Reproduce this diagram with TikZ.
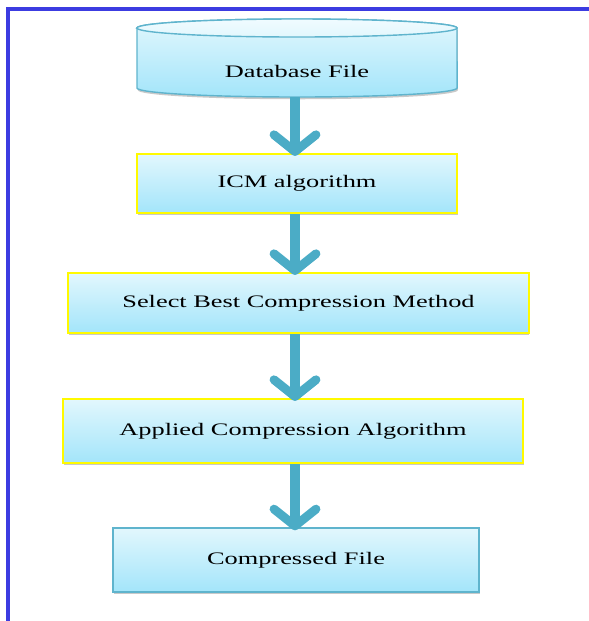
\documentclass[tikz,border=0pt]{standalone}
\usepackage{fontspec}
\setmainfont{Liberation Serif}[FakeStretch=1.5]
\usetikzlibrary{positioning,calc}
\usetikzlibrary{arrows.meta,shapes.geometric,shadows}
\definecolor{FlowTeal}{RGB}{75,172,198}
\definecolor{EdgeTeal}{RGB}{95,180,205}
\definecolor{BoxTop}{RGB}{226,247,253}
\definecolor{BoxBottom}{RGB}{163,229,250}
\definecolor{LidTop}{RGB}{240,251,255}
\definecolor{FrameBlue}{RGB}{60,60,225}
\definecolor{Lemon}{RGB}{255,250,0}
\tikzset{
	shade box/.style={top color=BoxTop,bottom color=BoxBottom,
		drop shadow={shadow xshift=0.6pt,shadow yshift=-1.6pt,opacity=0.3,fill=black!70}},
	stage/.style={rectangle,shade box,draw=Lemon,line width=1.5pt,
		minimum height=1.5cm,font=\fontsize{12.5}{14}\selectfont},
	drum/.style={shade box,draw=EdgeTeal,line width=1pt},
	flow/.style={draw=FlowTeal,line width=0.26cm,
		-{Straight Barb[length=0.42cm,width=1.05cm,line width=0.22cm,round]}},
}
\begin{document}
\begin{tikzpicture}[x=0.025cm,y=-0.025cm]
					\useasboundingbox (0,0) rectangle (589,621);
					\draw[FrameBlue,line width=2.6pt] (8,640) -- (8,9) -- (600,9);
					% database drum
					\path[drum] (137,28) -- (137,88) arc[start angle=180,end angle=360,x radius=4cm,y radius=0.225cm]
						-- (457,28) arc[start angle=0,end angle=180,x radius=4cm,y radius=0.225cm] -- cycle;
					\draw[EdgeTeal,line width=1pt,top color=LidTop,bottom color=BoxTop] (297,28) ellipse[x radius=4cm,y radius=0.225cm];
					\node[font=\fontsize{12.5}{14}\selectfont,minimum width=8cm,minimum height=1.3cm] (dbfile) at (297,71) {Database File};
					\node[stage,minimum width=8cm,minimum height=1.475cm] (icm) at (297,183.5) {ICM algorithm};
					\node[stage,minimum width=11.5cm,minimum height=1.5cm] (select) at (298.5,303) {Select Best Compression Method};
					\node[stage,minimum width=11.5cm,minimum height=1.6cm] (applied) at (293,431) {Applied Compression Algorithm};
					\node[stage,draw=EdgeTeal,line width=1pt,minimum width=9.15cm,minimum height=1.6cm] (compressed) at (296,560) {Compressed File};
					\foreach \a/\b in {dbfile/icm,icm/select,select/applied,applied/compressed}
					\draw[flow] (\a.south -| 295,0) -- ($(\b.north -| 295,0)+(0,3)$);
				\end{tikzpicture}
\end{document}
